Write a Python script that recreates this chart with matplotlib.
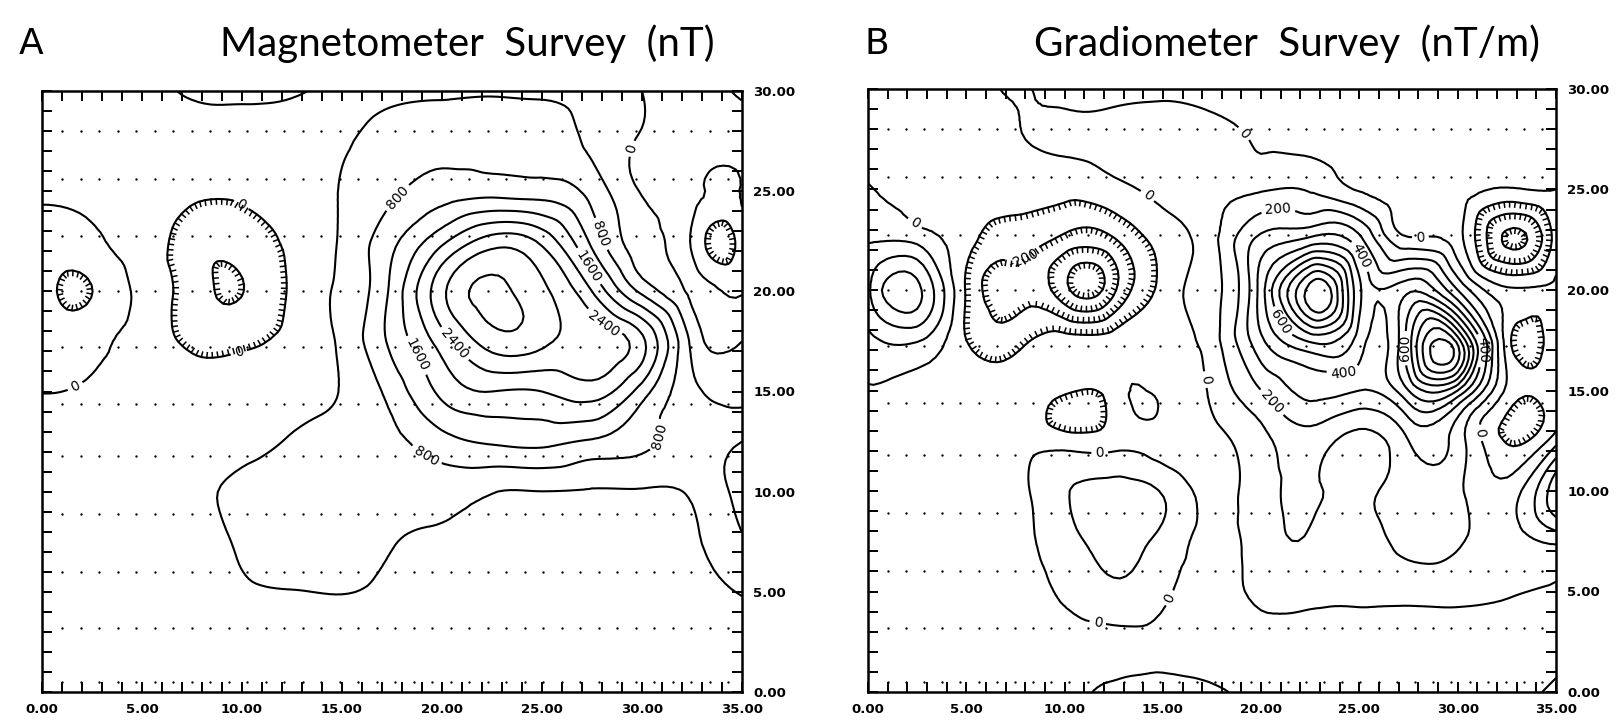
import numpy as np
import matplotlib
matplotlib.use("Agg")
import matplotlib.pyplot as plt
import matplotlib.tri as mtri
from matplotlib import patheffects

# ---------------- data ----------------
grid_x = [0, 2.5, 5, 7.5, 10, 12.5, 15, 17.5, 20, 22.5, 25, 27.5, 30, 32.5, 35]
grid_y = [30, 27.5, 25, 22.5, 20, 17.5, 15, 12.5, 10, 7.5, 5, 2.5, 0]   # rows, top to bottom

mag_rows = [
    [200, 200, 150, -50, -80, -50, 150, 300, 330, 340, 300, 250, 0, -200, -450],
    [200, 200, 200, 150, 150, 200, 350, 550, 650, 700, 650, 300, -30, -200, -300],
    [80, 120, 200, 80, 70, 200, 420, 720, 1000, 1050, 1000, 650, -30, -300, -380],
    [-200, -100, 150, -200, -220, 80, 450, 1100, 1900, 2600, 2300, 1100, 150, -450, -600],
    [-250, -405, 80, -200, -410, 60, 480, 1300, 2700, 3300, 2900, 2000, 700, -100, -420],
    [-200, -120, 100, -60, -80, 100, 480, 1300, 2200, 3000, 2900, 2700, 2100, 300, 0],
    [-10, 50, 150, 180, 200, 250, 420, 950, 1700, 2000, 2000, 2200, 1400, 500, 250],
    [200, 200, 200, 250, 300, 430, 550, 700, 1050, 1250, 1300, 1150, 900, 650, 800],
    [200, 200, 200, 300, 480, 550, 550, 520, 550, 420, 395, 370, 370, 450, 950],
    [200, 200, 200, 250, 450, 550, 500, 410, 350, 300, 280, 280, 300, 350, 750],
    [200, 200, 200, 220, 350, 390, 410, 330, 250, 220, 200, 200, 200, 250, 420],
    [200, 200, 200, 200, 200, 200, 200, 200, 200, 200, 200, 200, 200, 200, 300],
    [200, 200, 200, 200, 200, 200, 200, 200, 200, 200, 200, 200, 200, 200, 200],
]
mag_spots = [(33.4, 22.5, -900)]
mag_levels = [-800, -400, 0, 400, 800, 1200, 1600, 2000, 2400, 2800, 3200]
mag_label_levels = [0, 800, 1600, 2400]

grad_rows = [
    [-50, -50, -40, 10, -40, -40, -30, -40, -40, -40, -40, -40, -50, -60, -60],
    [-50, -50, -50, -10, 20, 40, 60, 40, -10, -30, -40, -40, -50, -70, -70],
    [5, -30, -50, -60, -70, -30, 30, 80, 90, 90, -10, -40, -60, -110, -100],
    [90, 70, -70, -150, -230, -210, -60, 70, 330, 430, 330, 20, -60, -420, -150],
    [180, 330, -110, -230, -370, -320, -70, 70, 450, 1050, 520, 480, 200, -80, -80],
    [70, 110, -100, -140, -60, -60, -50, 60, 380, 620, 450, 650, 850, -50, -40],
    [-5, -30, -50, -50, -80, -50, -40, 20, 200, 330, 300, 500, 500, -20, -30],
    [-50, -50, -50, -40, -50, -40, -40, -40, 70, 150, 60, 200, 150, -110, 60],
    [-50, -50, -40, -30, 90, 140, 90, -30, 60, 110, 80, 150, 120, 40, 380],
    [-50, -50, -40, -30, 60, 130, 70, -30, 50, 90, 60, 130, 110, 60, 120],
    [-50, -50, -40, -30, 15, 80, 20, -30, 20, 30, 20, 30, 30, 10, -10],
    [-50, -50, -50, -50, -40, -30, -25, -40, -40, -50, -50, -50, -50, -50, -40],
    [-50, -50, -50, -50, -40, 30, 40, 20, -40, -50, -50, -50, -50, -50, 30],
]
grad_spots = [(11.0, 20.1, -450), (10.4, 14.2, -150), (14.1, 14.4, 20),
              (23.6, 19.7, 1000), (29.2, 16.9, 1080), (33.4, 17.7, -140)]
grad_levels = [-400, -300, -200, -100, 0, 100, 200, 300, 400, 500, 600, 700, 800, 900, 1000]
grad_label_levels = [-200, 0, 200, 400, 600]

x_ticks = [0, 5, 10, 15, 20, 25, 30, 35]
x_ticklabels = ["0.00", "5.00", "10.00", "15.00", "20.00", "25.00", "30.00", "35.00"]
y_ticks = [0, 5, 10, 15, 20, 25, 30]
y_ticklabels = ["0.00", "5.00", "10.00", "15.00", "20.00", "25.00", "30.00"]

survey_rows = [0.5, 3.2, 6.0, 8.9, 11.8, 14.4, 17.2, 20.0, 22.75, 25.6, 28.0]
survey_step = 0.925

titles = ["Magnetometer  Survey  (nT)", "Gradiometer  Survey  (nT/m)"]
panel_letters = ["A", "B"]

# contour label anchor points (layout)
mag_label_pos = [(17.75, 24.7), (28.05, 22.9), (27.25, 21.2), (27.9, 18.2), (20.65, 17.4),
                 (18.9, 16.9), (19.15, 11.7), (31.25, 12.7), (29.55, 27.1), (9.7, 23.9),
                 (9.8, 17.1), (1.9, 14.8)]
grad_label_pos = [(7.9, 21.6), (3.0, 24.2), (14.15, 24.6), (18.7, 27.4), (17.5, 15.6),
                  (20.85, 24.2), (20.2, 14.1), (25.1, 21.7), (28.1, 22.4), (21.0, 18.4),
                  (27.4, 17.1), (24.2, 15.8), (11.8, 10.9), (15.3, 4.7), (11.8, 4.2),
                  (31.3, 12.9), (31.5, 17.0)]

# ---------------- drawing ----------------
W, H = 1621, 720
fig = plt.figure(figsize=(W / 100, H / 100), dpi=100)
fig.patch.set_facecolor("white")

axes_px = [(42, 742, 91, 692), (868, 1556, 89, 692)]


def make_field(rows, spots):
    gx, gy = np.meshgrid(grid_x, grid_y)
    px = np.concatenate([gx.ravel(), [s[0] for s in spots]])
    py = np.concatenate([gy.ravel(), [s[1] for s in spots]])
    pz = np.concatenate([np.asarray(rows, float).ravel(), [s[2] for s in spots]])
    tri = mtri.Triangulation(px, py)
    interp = mtri.CubicTriInterpolator(tri, pz, kind="min_E")
    refiner = mtri.UniformTriRefiner(tri)
    tri_r, z_r = refiner.refine_field(pz, triinterpolator=interp, subdiv=3)
    return tri_r, z_r


def hachure(ax, cs, tri_r, z_r):
    pts = np.column_stack([tri_r.x, tri_r.y])
    for lev, segs in zip(cs.levels, cs.allsegs):
        for seg in segs:
            if len(seg) < 5:
                continue
            if (seg[:, 0].min() < 0.05 or seg[:, 0].max() > 34.95 or
                    seg[:, 1].min() < 0.05 or seg[:, 1].max() > 29.95):
                continue
            path = matplotlib.path.Path(seg)
            inside = path.contains_points(pts)
            if inside.sum() == 0 or z_r[inside].mean() >= lev:
                continue
            area = 0.5 * np.sum(seg[:-1, 0] * seg[1:, 1] - seg[1:, 0] * seg[:-1, 1])
            ang = 90 if area > 0 else -90
            ax.plot(seg[:, 0], seg[:, 1], color="k", lw=1.1, zorder=4,
                    path_effects=[patheffects.TickedStroke(spacing=4.0, angle=ang, length=0.9)])


panels = [(mag_rows, mag_spots, mag_levels, mag_label_levels, mag_label_pos),
          (grad_rows, grad_spots, grad_levels, grad_label_levels, grad_label_pos)]

for i, (rows, spots, levels, lab_levels, lab_pos) in enumerate(panels):
    l, r, t, b = axes_px[i]
    ax = fig.add_axes([l / W, 1 - b / H, (r - l) / W, (b - t) / H])
    ax.set_xlim(0, 35)
    ax.set_ylim(0, 30)
    tri_r, z_r = make_field(rows, spots)
    plain_levels = [lv for lv in levels if lv not in lab_levels]
    cs_plain = ax.tricontour(tri_r, z_r, levels=plain_levels, colors="k", linewidths=1.5,
                             negative_linestyles="solid")
    cs_lab = ax.tricontour(tri_r, z_r, levels=lab_levels, colors="k", linewidths=1.5,
                           negative_linestyles="solid")
    hachure(ax, cs_plain, tri_r, z_r)
    hachure(ax, cs_lab, tri_r, z_r)
    cs_lab.clabel(fmt="%d", fontsize=10, inline=True, inline_spacing=4,
                  colors="k", manual=lab_pos)

    # survey points
    xs = np.arange(1.0, 35, survey_step)
    for yy in survey_rows:
        ax.plot(xs, np.full_like(xs, yy), ls="none", marker="o", ms=1.7, color="k", mec="none")

    ax.set_xticks(np.arange(0, 36, 1), minor=True)
    ax.set_yticks(np.arange(0, 31, 1), minor=True)
    ax.set_xticks(x_ticks)
    ax.set_xticklabels(x_ticklabels)
    ax.set_yticks(y_ticks)
    ax.set_yticklabels(y_ticklabels)
    ax.tick_params(which="both", direction="in", length=7, width=1.4, top=True, right=True,
                   left=True, bottom=True, labelleft=False, labelright=True, pad=8)
    for lab in ax.get_xticklabels() + ax.get_yticklabels():
        lab.set_fontweight("bold")
        lab.set_fontsize(9.5)
    for sp in ax.spines.values():
        sp.set_linewidth(1.8)

fig.text(31 / W, 1 - 44 / H, panel_letters[0], fontsize=26, ha="center", va="center", family="DejaVu Sans")
fig.text(877 / W, 1 - 44 / H, panel_letters[1], fontsize=26, ha="center", va="center", family="DejaVu Sans")
fig.text(467 / W, 1 - 44 / H, titles[0], fontsize=29, ha="center", va="center", family="Lato",
         fontweight="normal", color="black")
fig.text(1287 / W, 1 - 44 / H, titles[1], fontsize=29, ha="center", va="center", family="Lato",
         fontweight="normal", color="black")

fig.savefig("out.png", dpi=100, facecolor="white")
